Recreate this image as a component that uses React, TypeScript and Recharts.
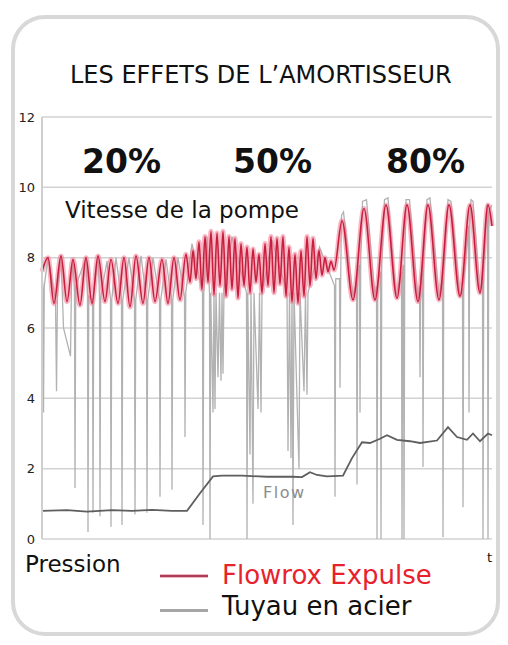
import { CartesianGrid, Line, LineChart, XAxis, YAxis } from "recharts";

// time axis runs 0..90, pressure 0..12
const yTicks = [0, 2, 4, 6, 8, 10, 12];
const speedLabels = ["20%", "50%", "80%"];
const seriesNames = ["Flowrox Expulse", "Tuyau en acier"];

// Flowrox Expulse pressure (peaks / troughs)
const flowroxPoints: [number, number][] = [
  [0, 7.6], [1.2, 8.0], [2.4, 6.7], [3.8, 8.05], [5.0, 6.75], [6.2, 7.95],
  [7.6, 6.65], [8.8, 8.0], [10.0, 6.7], [11.2, 8.05], [12.6, 6.75], [13.8, 7.95],
  [15.2, 6.7], [16.4, 8.0], [17.6, 6.6], [18.8, 8.05], [20.2, 6.7], [21.4, 8.0],
  [22.6, 6.75], [24.0, 7.95], [25.2, 6.7], [26.4, 8.0], [27.6, 6.8], [28.8, 8.1],
  [29.6, 7.3], [30.2, 8.2], [30.8, 7.4], [31.4, 8.45], [32.0, 7.1], [32.6, 8.6],
  [33.2, 7.3], [33.8, 8.75], [34.4, 6.95], [35.0, 8.7], [35.6, 7.2], [36.2, 8.75],
  [36.8, 6.9], [37.4, 8.6], [38.0, 7.1], [38.6, 8.55], [39.2, 6.85], [39.8, 8.4],
  [40.4, 7.2], [41.0, 8.3], [41.6, 7.0], [42.2, 8.25], [42.8, 7.3], [43.4, 8.1],
  [44.0, 7.0], [44.6, 8.4], [45.2, 7.2], [45.8, 8.6], [46.4, 7.0], [47.0, 8.55],
  [47.6, 7.25], [48.2, 8.6], [48.8, 6.9], [49.4, 8.3], [50.0, 6.75], [50.6, 8.1],
  [51.2, 6.7], [51.8, 8.2], [52.4, 6.9], [53.0, 8.6], [53.6, 7.2], [54.2, 8.55],
  [54.8, 7.4], [55.4, 8.2], [56.0, 7.5], [56.6, 8.0], [57.2, 7.6], [57.8, 7.9],
  [58.4, 7.65], [60.0, 9.05], [62.2, 6.8], [64.4, 9.4], [66.6, 6.8], [68.8, 9.5],
  [71.0, 6.85], [73.0, 9.5], [75.2, 6.75], [77.2, 9.5], [79.4, 6.8], [81.4, 9.5],
  [83.6, 6.9], [85.6, 9.5], [87.6, 7.0], [89.2, 9.5], [90, 8.9],
];

// steel pipe pressure, with its sharp drops
const steelPoints: [number, number][] = [
  [0, 7.6], [0.2, 7.0], [0.3, 3.6], [0.45, 7.2], [1.2, 8.0],
  [2.7, 6.8], [2.9, 4.2], [3.1, 7.0], [3.8, 8.05],
  [4.3, 6.0], [5.7, 5.2], [5.9, 7.3], [6.2, 7.95],
  [6.5, 7.0], [6.6, 1.45], [6.75, 7.2], [8.8, 8.0],
  [9.1, 6.9], [9.2, 0.2], [9.35, 6.9],
  [10.1, 6.8], [10.2, 0.75], [10.35, 7.0], [11.2, 8.05],
  [11.5, 6.9], [11.6, 0.65], [11.75, 6.9], [13.0, 7.9],
  [13.7, 6.8], [13.8, 0.35], [13.95, 6.8], [14.8, 8.0],
  [15.9, 6.8], [16.0, 0.4], [16.15, 6.8], [17.4, 8.0],
  [18.5, 6.8], [18.6, 0.7], [18.75, 6.8], [19.8, 8.05],
  [20.9, 6.8], [21.0, 0.75], [21.15, 6.8], [22.2, 8.0],
  [23.5, 6.8], [23.6, 1.2], [23.75, 6.8], [24.8, 7.95],
  [25.9, 6.8], [26.0, 1.4], [26.15, 6.8], [27.2, 8.0],
  [28.5, 6.9], [28.6, 2.9], [28.75, 7.0], [30.0, 8.4],
  [32.1, 7.0], [32.2, 0.4], [32.35, 7.0], [33.0, 8.6],
  [33.5, 7.0], [33.6, 0.0], [33.75, 7.0],
  [34.2, 3.6], [34.4, 7.0], [34.6, 3.7], [34.8, 7.0],
  [35.2, 4.6], [35.5, 7.0], [35.8, 4.5], [36.0, 7.0], [36.2, 4.7], [36.4, 7.1],
  [38.0, 8.6],
  [40.9, 7.0], [41.0, 0.0], [41.15, 7.0],
  [41.6, 2.4], [41.8, 7.0], [42.2, 1.0], [42.4, 7.0],
  [43.2, 3.7], [43.5, 7.0], [43.8, 3.6], [44.0, 7.0], [46.0, 8.5],
  [49.0, 7.0], [49.2, 2.5], [49.5, 7.0], [49.8, 2.3], [50.0, 7.0], [50.2, 0.4], [50.4, 7.0],
  [51.4, 2.0], [51.6, 7.0],
  [52.4, 4.2], [52.7, 7.0], [53.0, 4.1], [53.2, 7.0], [55.5, 8.3],
  [58.5, 7.2], [58.6, 1.2], [58.75, 7.4],
  [59.5, 7.4], [59.6, 4.3], [59.75, 7.6],
  [59.9, 9.2], [60.3, 9.3],
  [62.2, 6.9], [62.9, 7.3], [63.0, 1.55], [63.15, 7.5], [63.5, 7.8], [63.6, 3.6], [63.75, 8.0],
  [64.1, 9.6], [64.9, 9.65],
  [66.6, 6.9], [66.9, 7.2], [67.0, 0.0], [67.15, 7.3], [67.7, 7.6], [67.8, 0.0], [67.95, 7.8],
  [68.5, 9.65], [69.2, 9.7],
  [70.8, 6.9], [71.9, 7.6], [72.0, 0.0], [72.15, 7.7], [72.3, 7.8], [72.4, 0.0], [72.55, 8.0],
  [72.8, 9.65], [73.5, 9.65],
  [75.2, 6.8], [75.5, 7.2], [75.6, 4.6], [75.75, 7.4], [76.1, 7.8], [76.2, 2.05], [76.35, 8.0],
  [77.0, 9.65], [77.6, 9.7],
  [79.4, 6.9], [80.1, 7.4], [80.2, 0.05], [80.35, 7.6],
  [81.2, 9.65], [81.8, 9.6],
  [83.6, 6.9], [84.1, 7.1], [84.2, 0.9], [84.35, 7.3], [85.3, 8.9], [85.4, 3.6], [85.55, 9.0],
  [85.8, 9.65], [86.2, 9.6],
  [87.6, 7.0], [88.1, 7.5], [88.2, 0.0], [88.35, 7.7],
  [89.0, 9.5], [89.1, 9.5], [89.2, 0.0], [89.35, 9.3], [90, 9.5],
];

// flow trace
const flowPoints: [number, number][] = [
  [0, 0.8], [5, 0.82], [9, 0.78], [14, 0.82], [18, 0.8], [22, 0.83], [26, 0.8],
  [29, 0.8], [31.6, 1.3], [34.2, 1.78], [36, 1.8], [40, 1.8], [45, 1.77],
  [50, 1.77], [52, 1.76], [53.6, 1.9], [55, 1.82], [57, 1.78], [60.2, 1.8],
  [62, 2.3], [64, 2.75], [65.6, 2.73], [67.6, 2.85], [69, 2.95], [71, 2.82],
  [73.6, 2.78], [75.6, 2.73], [79, 2.8], [81.2, 3.18], [83, 2.9], [85, 2.82],
  [86.2, 3.0], [87.6, 2.78], [89.2, 3.0], [90, 2.95],
];

const toRows = (pts: [number, number][]) => pts.map(([t, v]) => ({ t, v }));
const flowroxRows = toRows(flowroxPoints);
const steelRows = toRows(steelPoints);
const flowRows = toRows(flowPoints);

const font = "'DejaVu Sans', Verdana, sans-serif";
const speedLeft = [82, 233, 386];

export default function App() {
  const txt = (extra: object) => ({
    position: "absolute" as const,
    lineHeight: 1,
    whiteSpace: "nowrap" as const,
    fontFamily: font,
    ...extra,
  });
  return (
    <div
      style={{
        position: "absolute",
        left: 0,
        top: 0,
        width: 508,
        height: 645,
        background: "#fff",
        overflow: "hidden",
      }}
    >
      <div
        style={{
          position: "absolute",
          left: 11,
          top: 15,
          width: 489,
          height: 621,
          border: "4px solid #d8d8d8",
          borderRadius: 34,
          boxSizing: "border-box",
        }}
      />
      <LineChart
        width={508}
        height={645}
        margin={{ top: 117, right: 16, bottom: 106, left: 12 }}
        style={{ position: "absolute", left: 0, top: 0 }}
      >
        <CartesianGrid vertical={false} stroke="#d2d2d2" strokeWidth={1.5} />
        <XAxis type="number" dataKey="t" domain={[0, 90]} hide />
        <YAxis
          type="number"
          domain={[0, 12]}
          ticks={yTicks}
          interval={0}
          width={30}
          tickSize={0}
          tickMargin={7}
          tickLine={false}
          axisLine={{ stroke: "#cfcfcf", strokeWidth: 2 }}
          tick={{ fill: "#222", fontSize: 13, fontFamily: font }}
        />
        <Line
          data={steelRows}
          dataKey="v"
          name={seriesNames[1]}
          type="linear"
          stroke="#b2b2b2"
          strokeWidth={1.3}
          dot={false}
          isAnimationActive={false}
        />
        <Line
          data={flowroxRows}
          dataKey="v"
          legendType="none"
          type="monotone"
          stroke="#f27b94"
          strokeOpacity={0.55}
          strokeWidth={5}
          dot={false}
          isAnimationActive={false}
        />
        <Line
          data={flowroxRows}
          dataKey="v"
          name={seriesNames[0]}
          type="monotone"
          stroke="#c81e3e"
          strokeWidth={1.6}
          dot={false}
          isAnimationActive={false}
        />
        <Line
          data={flowRows}
          dataKey="v"
          legendType="none"
          type="linear"
          stroke="#5e5e5e"
          strokeWidth={1.8}
          dot={false}
          isAnimationActive={false}
        />
      </LineChart>

      <div style={txt({ left: 70, top: 63, fontSize: 24, color: "#111" })}>
        LES EFFETS DE L’AMORTISSEUR
      </div>
      {speedLabels.map((s, i) => (
        <div
          key={s}
          style={txt({ left: speedLeft[i], top: 145, fontSize: 33, fontWeight: "bold", color: "#111" })}
        >
          {s}
        </div>
      ))}
      <div style={txt({ left: 65, top: 199, fontSize: 23, color: "#111" })}>
        Vitesse de la pompe
      </div>
      <div style={txt({ left: 263, top: 485, fontSize: 16, color: "#8c8c8c", letterSpacing: 1.5 })}>
        Flow
      </div>
      <div style={txt({ left: 25, top: 553, fontSize: 23, color: "#111" })}>Pression</div>
      <div style={txt({ left: 487, top: 551, fontSize: 13, color: "#111" })}>t</div>

      {/* legend */}
      <div style={{ position: "absolute", left: 160, top: 574, width: 48, height: 4, background: "#f6b4c2" }} />
      <div style={{ position: "absolute", left: 160, top: 575, width: 48, height: 2, background: "#a8405a" }} />
      <div style={txt({ left: 222, top: 562, fontSize: 26, color: "#e8222c" })}>{seriesNames[0]}</div>
      <div style={{ position: "absolute", left: 160, top: 609, width: 48, height: 3, background: "#a6a6a6" }} />
      <div style={txt({ left: 222, top: 593, fontSize: 26, color: "#111" })}>{seriesNames[1]}</div>
    </div>
  );
}
